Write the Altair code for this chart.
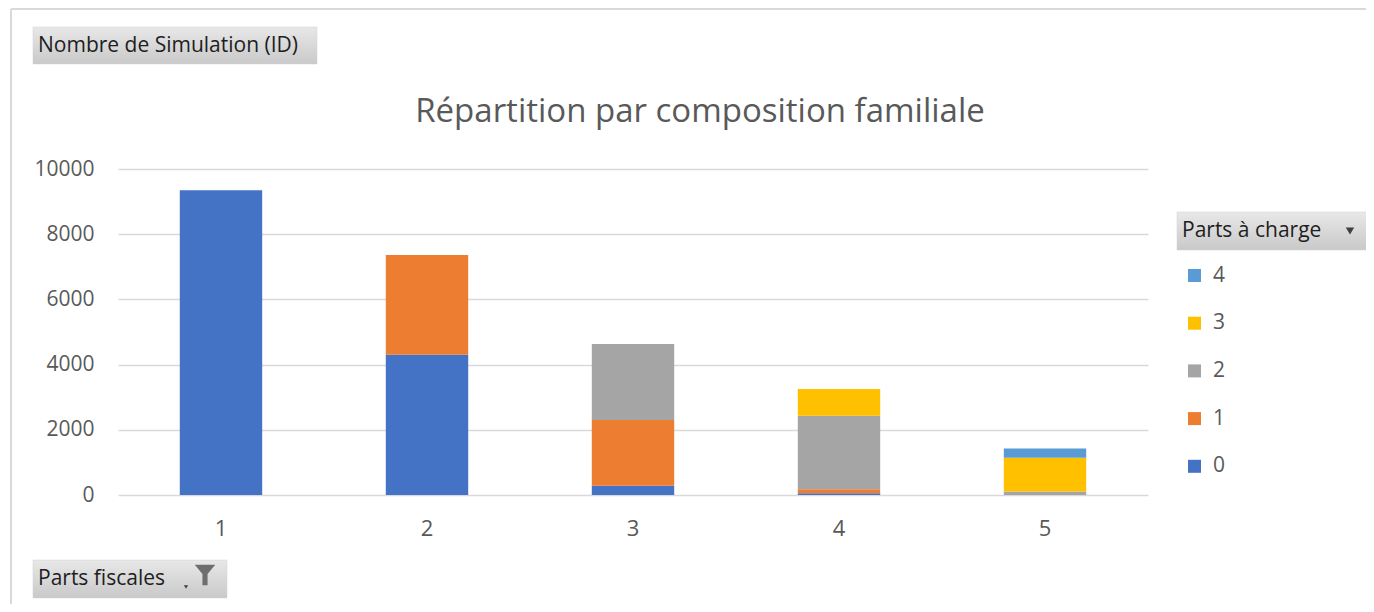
import altair as alt
import pandas as pd

# ---- data ----
parts_fiscales = ["1", "2", "3", "4", "5"]
charge_levels = ["0", "1", "2", "3", "4"]
vals_charge0 = [9350, 4300, 280, 50, 0]
vals_charge1 = [0, 3060, 2020, 130, 0]
vals_charge2 = [0, 0, 2330, 2250, 110]
vals_charge3 = [0, 0, 0, 820, 1035]
vals_charge4 = [0, 0, 0, 0, 285]
colors = ["#4472C4", "#ED7D31", "#A5A5A5", "#FFC000", "#5B9BD5"]
y_ticks = [0, 2000, 4000, 6000, 8000, 10000]
title_text = "Répartition par composition familiale"
btn_value = "Nombre de Simulation (ID)"
btn_axis = "Parts fiscales"
btn_legend = "Parts à charge"

series = [vals_charge0, vals_charge1, vals_charge2, vals_charge3, vals_charge4]
rows = []
for lvl, vals in zip(charge_levels, series):
    for pf, v in zip(parts_fiscales, vals):
        if v > 0:
            rows.append({"pf": pf, "charge": lvl, "n": v, "ord": int(lvl)})
df = pd.DataFrame(rows)

FONT = "Open Sans"
OX, OY = 118, 169  # plot origin in page pixels


def px(x):
    return x - OX


def py(y):
    return y - OY


bars = alt.Chart(df).mark_bar().encode(
    x=alt.X("pf:N", sort=parts_fiscales,
            scale=alt.Scale(paddingInner=0.6, paddingOuter=0.3),
            axis=alt.Axis(title=None, labelAngle=0, domain=False, ticks=False,
                          labelFontSize=22, labelColor="#595959", labelFont=FONT,
                          labelPadding=23, grid=False)),
    y=alt.Y("n:Q", stack="zero",
            scale=alt.Scale(domain=[0, 10000], nice=False),
            axis=alt.Axis(title=None, values=y_ticks, format="d", domain=False,
                          ticks=False, labelFontSize=21, labelColor="#595959",
                          labelFont=FONT, labelPadding=24, gridColor="#D9D9D9",
                          gridWidth=1.5)),
    color=alt.Color("charge:N",
                    scale=alt.Scale(domain=charge_levels[::-1], range=colors[::-1]),
                    legend=alt.Legend(title=None, orient="none", legendX=px(1184),
                                      legendY=py(265), symbolType="square",
                                      symbolSize=169, symbolStrokeWidth=0,
                                      labelFontSize=21, labelColor="#595959",
                                      labelFont=FONT, labelOffset=8,
                                      rowPadding=25.7, padding=0)),
    order=alt.Order("ord:Q", sort="ascending"),
)

dummy = alt.Data(values=[{}])

frame_top = alt.Chart(dummy).mark_rule(color="#D9D9D9", strokeWidth=2).encode(
    x=alt.value(px(11)), x2=alt.value(px(1374)), y=alt.value(py(9)))
frame_left = alt.Chart(dummy).mark_rule(color="#D9D9D9", strokeWidth=2).encode(
    x=alt.value(px(11)), y=alt.value(py(9)), y2=alt.value(py(612)))

grad = {"gradient": "linear", "x1": 0, "x2": 0, "y1": 0, "y2": 1,
        "stops": [{"offset": 0, "color": "#E8E8E8"},
                  {"offset": 1, "color": "#C9C9C9"}]}


def button(x0, y0, x1, y1, label):
    r = alt.Chart(dummy).mark_rect(fill=grad, stroke="#D0D0D0", strokeWidth=0.5).encode(
        x=alt.value(px(x0)), x2=alt.value(px(x1)),
        y=alt.value(py(y0)), y2=alt.value(py(y1)))
    t = alt.Chart(dummy).mark_text(align="left", baseline="middle", font=FONT,
                                   fontSize=21, color="#1E1E1E").encode(
        x=alt.value(px(x0 + 5)), y=alt.value(py((y0 + y1) / 2)),
        text=alt.value(label))
    return r + t


b1 = button(33, 27, 317, 64, btn_value)
b2 = button(33, 560, 227, 598, btn_axis)
b3 = button(1177, 212, 1369, 250, btn_legend)

arrow_legend = alt.Chart(dummy).mark_point(shape="triangle-down", filled=True,
                                           size=70, color="#404040", opacity=1).encode(
    x=alt.value(px(1350)), y=alt.value(py(231)))
arrow_axis = alt.Chart(dummy).mark_point(shape="triangle-down", filled=True,
                                         size=18, color="#404040", opacity=1).encode(
    x=alt.value(px(186)), y=alt.value(py(587)))
funnel = alt.Chart(dummy).mark_point(
    shape="M-1,-1L1,-1L0.25,-0.1L0.25,1L-0.25,1L-0.25,-0.1Z",
    filled=True, size=420, color="#6E6E6E", opacity=1).encode(
    x=alt.value(px(205)), y=alt.value(py(575)))

title = alt.Chart(dummy).mark_text(align="center", baseline="middle", font=FONT,
                                   fontSize=33, color="#595959").encode(
    x=alt.value(px(700)), y=alt.value(py(112)), text=alt.value(title_text))

chart = alt.layer(frame_top, frame_left, bars, b1, b2, b3, arrow_legend,
                  arrow_axis, funnel, title).properties(
    width=1030, height=326,
    autosize=alt.AutoSizeParams(type="none"),
    padding={"left": 110, "top": 161, "right": 218, "bottom": 109},
    background="white",
).configure_view(stroke=None)

chart.save("out.html", embed_options={"renderer": "svg", "actions": False})
